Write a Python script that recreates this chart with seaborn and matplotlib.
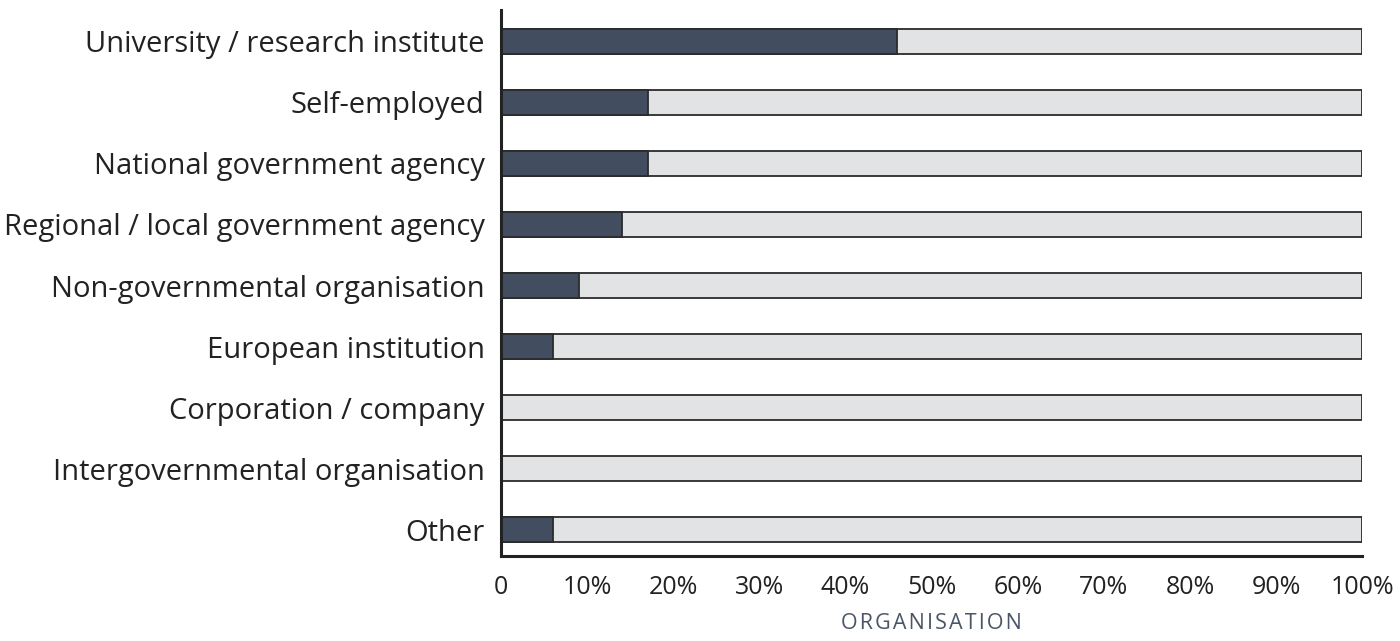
import matplotlib
matplotlib.use("Agg")
import matplotlib.pyplot as plt
import seaborn as sns
import pandas as pd
from matplotlib.ticker import FuncFormatter

categories = [
    "University / research institute",
    "Self-employed",
    "National government agency",
    "Regional / local government agency",
    "Non-governmental organisation",
    "European institution",
    "Corporation / company",
    "Intergovernmental organisation",
    "Other",
]
share = [46, 17, 17, 14, 9, 6, 0, 0, 6]
total = [100] * len(categories)
x_ticks = [0, 10, 20, 30, 40, 50, 60, 70, 80, 90, 100]

dark = "#424e5f"
light = "#e2e3e5"

df = pd.DataFrame({"Organisation": categories, "Share": share, "Total": total})

sns.set_style("white")
plt.rcParams["font.family"] = ["Open Sans", "DejaVu Sans"]

fig = plt.figure(figsize=(14, 6.41), dpi=100)
ax = fig.add_axes([0.358, 0.133, 0.615, 0.851])

# full bar in light grey, share on top in dark slate
sns.barplot(data=df, y="Organisation", x="Total", orient="h", color=light,
            edgecolor="#2b2b2b", linewidth=1.3, width=0.41, ax=ax, saturation=1)
sns.barplot(data=df[df["Share"] > 0], y="Organisation", x="Share", orient="h", color=dark,
            edgecolor="#2b2b2b", linewidth=1.3, width=0.41, ax=ax, saturation=1)

ax.set_xlim(0, 100)
ax.set_ylim(8.425, -0.507)
ax.set_xticks(x_ticks)
ax.xaxis.set_major_formatter(FuncFormatter(lambda v, p: "0" if v == 0 else f"{int(v)}%"))
ax.tick_params(axis="x", direction="in", length=13, width=2, color="#222222",
               labelsize=18, labelcolor="#222222", pad=14)
ax.tick_params(axis="y", length=0, labelsize=21, labelcolor="#222222", pad=12)

for s in ["top", "right"]:
    ax.spines[s].set_visible(False)
for s in ["left", "bottom"]:
    ax.spines[s].set_linewidth(2.2)
    ax.spines[s].set_color("#222222")

ax.set_ylabel("")
hs = "\u200a"
ax.set_xlabel(hs.join("ORGANISATION"), fontsize=15.5, color="#4a5668", labelpad=9)

fig.savefig("out.png", dpi=100)
